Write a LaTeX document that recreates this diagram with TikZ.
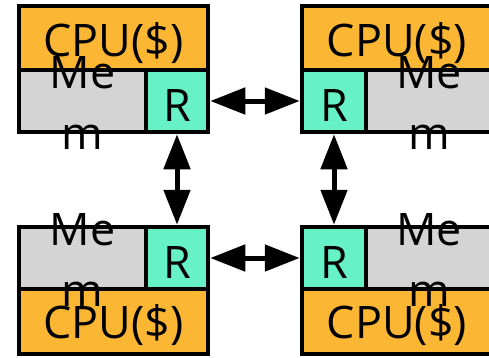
\documentclass[tikz,border=0pt]{standalone}
\usepackage{fontspec}
\setmainfont{Open Sans}
\usetikzlibrary{arrows.meta}
\definecolor{cpuorange}{RGB}{251,183,52}
\definecolor{memgray}{RGB}{212,212,212}
\definecolor{rteal}{RGB}{102,242,198}
\tikzset{
  box/.style={draw=black,line width=4.5bp,inner sep=0pt,outer sep=0pt},
  cpubox/.style={box,fill=cpuorange},
  membox/.style={box,fill=memgray},
  rbox/.style={box,fill=rteal,outer sep=2.25bp},
  bigtxt/.style={font=\fontsize{45}{62}\selectfont,inner sep=0pt},
  memtxt/.style={bigtxt,align=center},
  dbl/.style={line width=5bp,{Triangle[length=35bp,width=26bp]}-{Triangle[length=35bp,width=26bp]}}
}
\begin{document}
\begin{tikzpicture}[x=1bp,y=-1bp]
\useasboundingbox (0,0) rectangle (489,357);
% top-left module
\node[cpubox,minimum width=189bp,minimum height=64bp] (cpuTL) at (113.5,38) {};
\node[membox,minimum width=127bp,minimum height=62bp] (memTL) at (82.5,101) {};
\node[rbox,minimum width=62bp,minimum height=62bp] (rTL) at (177,101) {};
% top-right module
\node[cpubox,minimum width=190bp,minimum height=64bp] (cpuTR) at (397,38) {};
\node[membox,minimum width=126bp,minimum height=62bp] (memTR) at (429,101) {};
\node[rbox,minimum width=64bp,minimum height=62bp] (rTR) at (334,101) {};
% bottom-left module
\node[membox,minimum width=127bp,minimum height=62bp] (memBL) at (82.5,258) {};
\node[rbox,minimum width=62bp,minimum height=62bp] (rBL) at (177,258) {};
\node[cpubox,minimum width=189bp,minimum height=65bp] (cpuBL) at (113.5,321.5) {};
% bottom-right module
\node[membox,minimum width=126bp,minimum height=62bp] (memBR) at (429,258) {};
\node[rbox,minimum width=64bp,minimum height=62bp] (rBR) at (334,258) {};
\node[cpubox,minimum width=190bp,minimum height=65bp] (cpuBR) at (397,321.5) {};
% texts
\node[bigtxt] (tCTL) at ([yshift=-5bp]cpuTL.center) {CPU(\$)};
\node[bigtxt] (tCTR) at ([yshift=-5bp]cpuTR.center) {CPU(\$)};
\node[bigtxt] (tCBL) at ([yshift=-4bp]cpuBL.center) {CPU(\$)};
\node[bigtxt] (tCBR) at ([yshift=-4bp]cpuBR.center) {CPU(\$)};
\node[memtxt] (tMTL) at ([yshift=-2bp]memTL.center) {Me\\m};
\node[memtxt] (tMTR) at ([yshift=-2bp]memTR.center) {Me\\m};
\node[memtxt] (tMBL) at ([yshift=-2bp]memBL.center) {Me\\m};
\node[memtxt] (tMBR) at ([yshift=-2bp]memBR.center) {Me\\m};
\node[bigtxt] (tRTL) at ([yshift=-4bp]rTL.center) {R};
\node[bigtxt] (tRTR) at ([yshift=-4bp]rTR.center) {R};
\node[bigtxt] (tRBL) at ([yshift=-4bp]rBL.center) {R};
\node[bigtxt] (tRBR) at ([yshift=-4bp]rBR.center) {R};
% connectors
\draw[dbl] (rTL) -- (rTR);
\draw[dbl] (rBL) -- (rBR);
\draw[dbl] (rTL) -- (rBL);
\draw[dbl] (rTR) -- (rBR);
\end{tikzpicture}
\end{document}
